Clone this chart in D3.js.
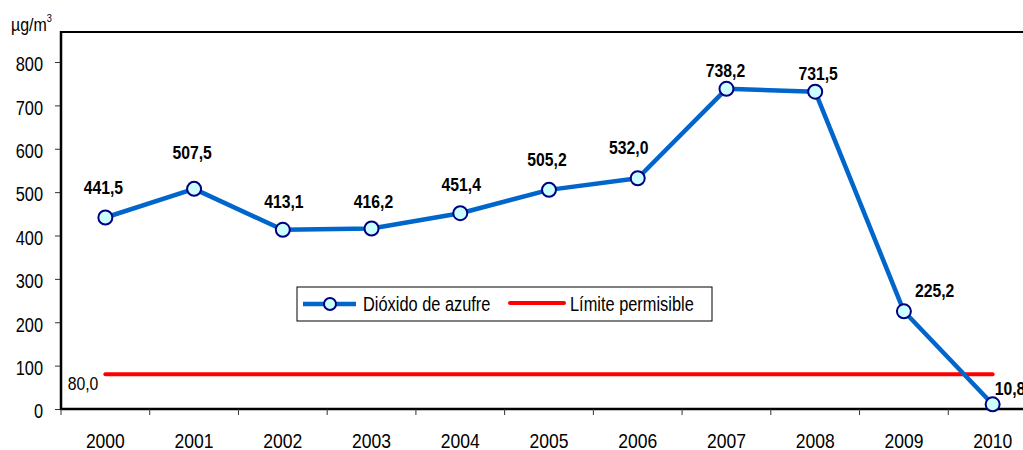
<!DOCTYPE html>
<html>
<head>
<meta charset="utf-8">
<script src="https://cdn.jsdelivr.net/npm/d3@7"></script>
<style>
  body { margin: 0; background: #fff; }
  svg { display: block; }
  text { font-family: "Liberation Sans", Arial, sans-serif; }
</style>
</head>
<body>
<script>
var years = ["2000", "2001", "2002", "2003", "2004", "2005", "2006", "2007", "2008", "2009", "2010"]
var so2 = [441.5, 507.5, 413.1, 416.2, 451.4, 505.2, 532.0, 738.2, 731.5, 225.2, 10.8]
var limite = [80, 80, 80, 80, 80, 80, 80, 80, 80, 80, 80]
var yTicks = [0, 100, 200, 300, 400, 500, 600, 700, 800]
var seriesNames = ["Dióxido de azufre", "Límite permisible"]

// label nudges (dx, dy from the point), the original labels were placed by hand
var labelNudge = [[-2, -23], [-2, -30], [1, -22], [2, -20], [1, -22], [-2, -24], [-9, -24],
  [-1, -12], [3, -12], [11, -14], [2, -9]]

var outerWidth = 1023,
  outerHeight = 450,
  margin = {top: 32, left: 61}

var svg = d3.select("body").append("svg")
  .attr("width", outerWidth)
  .attr("height", outerHeight)

var xScale = d3.scaleBand()
  .domain(years)
  .range([margin.left, 1037])

var yScale = d3.scaleLinear()
  .domain([0, 800])
  .range([409, 62])

var fmt = function(v) { return d3.format(".1f")(v).replace(".", ","); }
var cx = function(i) { return xScale(years[i]) + xScale.bandwidth() / 2; }

// narrow text: draw at (x,y) and squeeze horizontally
function narrowText(parent, x, y, txt, size, sx, anchor, bold) {
  return parent.append("text")
    .attr("transform", "translate(" + x + "," + y + ") scale(" + sx + ",1)")
    .attr("text-anchor", anchor || "start")
    .style("font-size", size + "px")
    .style("font-weight", bold ? "bold" : "normal")
    .attr("fill", "#000")
    .text(txt)
}

// title (cut off at the top of the picture)
narrowText(svg, 548, -4, "Concentración promedio anual de dióxido de azufre, µg/m3, Lima", 20, 0.85, "middle", true)
  .attr("fill", "#666")

// frame top line
svg.append("line")
  .attr("x1", margin.left).attr("x2", outerWidth)
  .attr("y1", margin.top).attr("y2", margin.top)
  .attr("stroke", "#000").attr("stroke-width", 2)

// y axis
var yAxis = d3.axisLeft(yScale).tickValues(yTicks).tickSize(6)
var gy = svg.append("g")
  .attr("transform", "translate(" + margin.left + ",0)")
  .call(yAxis)
gy.select(".domain").remove()
gy.selectAll(".tick line").attr("stroke", "#333")
gy.selectAll(".tick text")
  .attr("x", 0).attr("dy", "0.45em")
  .attr("transform", "translate(-18,0) scale(0.84,1)")
  .style("font-size", "19.5px").style("font-family", "Liberation Sans, Arial, sans-serif")
  .attr("fill", "#000")
svg.append("line")
  .attr("x1", margin.left).attr("x2", margin.left)
  .attr("y1", margin.top - 1).attr("y2", 410)
  .attr("stroke", "#000").attr("stroke-width", 2.5)

// x axis
var xAxis = d3.axisBottom(xScale).tickSize(0)
var gx = svg.append("g")
  .attr("transform", "translate(0,409)")
  .call(xAxis)
gx.select(".domain").remove()
gx.selectAll(".tick text")
  .attr("y", 0).attr("dy", 0)
  .attr("transform", "translate(0,39) scale(0.835,1)")
  .style("font-size", "21px").style("font-family", "Liberation Sans, Arial, sans-serif")
  .attr("fill", "#000")
svg.append("line")
  .attr("x1", margin.left - 1).attr("x2", outerWidth)
  .attr("y1", 409).attr("y2", 409)
  .attr("stroke", "#000").attr("stroke-width", 2.5)
svg.selectAll(".xtick")
  .data(years)
  .enter().append("line")
  .attr("class", "xtick")
  .attr("x1", function(d) { return xScale(d); })
  .attr("x2", function(d) { return xScale(d); })
  .attr("y1", 409).attr("y2", 415)
  .attr("stroke", "#333").attr("stroke-width", 1)

// y unit
var unit = narrowText(svg, 11, 31, "", 19, 0.84, "start", false)
unit.append("tspan").text("µg/m")
unit.append("tspan").attr("dy", -9).style("font-size", "11px").text("3")

// limit line
var limLine = d3.line()
  .x(function(d, i) { return cx(i); })
  .y(function(d) { return yScale(d); })
svg.append("path")
  .datum(limite)
  .attr("d", limLine)
  .attr("fill", "none")
  .attr("stroke", "#ff0000")
  .attr("stroke-width", 4)
  .attr("stroke-linecap", "round")
narrowText(svg, cx(0) - 7, yScale(limite[0]) + 16, fmt(limite[0]), 17.5, 0.9, "end", false)

// SO2 line
var so2Line = d3.line()
  .x(function(d, i) { return cx(i); })
  .y(function(d) { return yScale(d); })
svg.append("path")
  .datum(so2)
  .attr("d", so2Line)
  .attr("fill", "none")
  .attr("stroke", "#0066cc")
  .attr("stroke-width", 4.5)
  .attr("stroke-linejoin", "round")

svg.selectAll(".pt")
  .data(so2)
  .enter().append("circle")
  .attr("class", "pt")
  .attr("cx", function(d, i) { return cx(i); })
  .attr("cy", function(d) { return yScale(d); })
  .attr("r", 7)
  .attr("fill", "#ccffff")
  .attr("stroke", "#000080")
  .attr("stroke-width", 2)

so2.forEach(function(d, i) {
  var n = labelNudge[i]
  var anchor = i >= 9 ? "start" : "middle"
  narrowText(svg, cx(i) + n[0], yScale(d) + n[1], fmt(d), 17.5, 0.9, anchor, true)
    .style("font-weight", "600")
})

// legend
var lg = svg.append("g").attr("transform", "translate(297,287)")
lg.append("rect")
  .attr("width", 415).attr("height", 34)
  .attr("fill", "#fff").attr("stroke", "#000").attr("stroke-width", 1)
lg.append("line")
  .attr("x1", 6).attr("x2", 59).attr("y1", 17).attr("y2", 17)
  .attr("stroke", "#0066cc").attr("stroke-width", 4.5)
lg.append("circle")
  .attr("cx", 33).attr("cy", 17).attr("r", 6)
  .attr("fill", "#ccffff").attr("stroke", "#000080").attr("stroke-width", 2)
narrowText(lg, 66, 24, seriesNames[0], 19.5, 0.84, "start", false)
lg.append("line")
  .attr("x1", 213).attr("x2", 267).attr("y1", 16).attr("y2", 16)
  .attr("stroke", "#ff0000").attr("stroke-width", 4).attr("stroke-linecap", "round")
narrowText(lg, 273, 24, seriesNames[1], 19.5, 0.84, "start", false)
</script>
</body>
</html>
